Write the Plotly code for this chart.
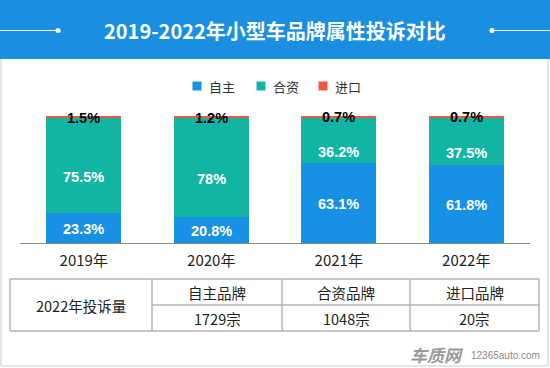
import plotly.graph_objects as go

# ---- data ----
years = ["2019年", "2020年", "2021年", "2022年"]
series_names = ["自主", "合资", "进口"]
own_brand = [23.3, 20.8, 63.1, 61.8]
joint_venture = [75.5, 78.0, 36.2, 37.5]
imported = [1.5, 1.2, 0.7, 0.7]
own_labels = ["23.3%", "20.8%", "63.1%", "61.8%"]
jv_labels = ["75.5%", "78%", "36.2%", "37.5%"]
imp_labels = ["1.5%", "1.2%", "0.7%", "0.7%"]

table_row_title = "2022年投诉量"
table_headers = ["自主品牌", "合资品牌", "进口品牌"]
table_counts = ["1729宗", "1048宗", "20宗"]

title_text = "2019-2022年小型车品牌属性投诉对比"

colors = ["#1890e3", "#12b5a4", "#f05a3c"]
BANNER = "#1a8fe0"
W, H = 550, 368

def py(px):
    return 1 - px / H

def pxx(px):
    return px / W

CJK = "Noto Sans CJK SC"
NUM = "Liberation Sans"

fig = go.Figure()
for name, vals, col in zip(series_names, [own_brand, joint_venture, imported], colors):
    fig.add_trace(go.Bar(x=years, y=vals, name=name, marker=dict(color=col, line=dict(width=0)),
                         showlegend=False, hoverinfo="skip"))

annotations = []
shapes = []

def pann(x, y, text, font, xanchor="center", yanchor="middle"):
    annotations.append(dict(x=x, y=y, xref="paper", yref="paper", text=text, showarrow=False,
                            xanchor=xanchor, yanchor=yanchor, font=font))

lab_font_w = dict(family=NUM, size=14.5, color="white", weight="bold")
lab_font_k = dict(family=NUM, size=14.5, color="black", weight="bold")
# bar labels
for i, yr in enumerate(years):
    annotations.append(dict(x=yr, y=own_brand[i] / 2, xref="x", yref="y", text=own_labels[i],
                            showarrow=False, yshift=-1, xanchor="center", yanchor="middle", font=lab_font_w))
    annotations.append(dict(x=yr, y=own_brand[i] + joint_venture[i] / 2, xref="x", yref="y",
                            text=jv_labels[i], showarrow=False, yshift=-12, xanchor="center", yanchor="middle",
                            font=lab_font_w))
    annotations.append(dict(x=yr, y=own_brand[i] + joint_venture[i] + imported[i] / 2, xref="x", yref="y",
                            text=imp_labels[i], showarrow=False, yshift=-1, xanchor="center", yanchor="middle",
                            font=lab_font_k))

# banner
shapes.append(dict(type="rect", xref="paper", yref="paper", x0=0, x1=1, y0=py(59), y1=1,
                   fillcolor=BANNER, line=dict(width=0), layer="below"))
shapes.append(dict(type="line", xref="paper", yref="paper", x0=0, x1=pxx(58), y0=py(30.5), y1=py(30.5),
                   line=dict(color="white", width=1)))
shapes.append(dict(type="line", xref="paper", yref="paper", x0=pxx(492), x1=1, y0=py(30.5), y1=py(30.5),
                   line=dict(color="white", width=1)))
for cx in (58, 492):
    shapes.append(dict(type="circle", xref="paper", yref="paper", x0=pxx(cx - 2.5), x1=pxx(cx + 2.5),
                       y0=py(33), y1=py(28), fillcolor="white", line=dict(width=0)))
pann(0.5, py(30), title_text, dict(family=CJK, size=20, color="white", weight="bold"))

# outer border
for (x0, y0, x1, y1) in [(1, 59, 1, 366), (548, 59, 548, 366), (1, 366, 548, 366)]:
    shapes.append(dict(type="line", xref="paper", yref="paper", x0=pxx(x0), x1=pxx(x1), y0=py(y0), y1=py(y1),
                       line=dict(color="#dddddd", width=1.5)))

# custom legend
leg_sq_x = [197, 261, 323]
for name, col, sx in zip(series_names, colors, leg_sq_x):
    shapes.append(dict(type="rect", xref="paper", yref="paper", x0=pxx(sx - 4.5), x1=pxx(sx + 4.5),
                       y0=py(90.5), y1=py(81.5), fillcolor=col, line=dict(width=0)))
    pann(pxx(sx + 10), py(86), name, dict(family=CJK, size=13, color="#333333"), xanchor="left")

# table
tl, tr, tt, tm, tb = 10, 539, 279, 305, 331
cols = [10, 152, 282, 410, 539]
tcol = "#b4b4b4"
for yy in (tt, tb):
    shapes.append(dict(type="line", xref="paper", yref="paper", x0=pxx(tl), x1=pxx(tr), y0=py(yy), y1=py(yy),
                       line=dict(color=tcol, width=1.5)))
shapes.append(dict(type="line", xref="paper", yref="paper", x0=pxx(cols[1]), x1=pxx(tr), y0=py(tm), y1=py(tm),
                   line=dict(color=tcol, width=1.5)))
for cx in cols:
    shapes.append(dict(type="line", xref="paper", yref="paper", x0=pxx(cx), x1=pxx(cx), y0=py(tt), y1=py(tb),
                       line=dict(color=tcol, width=1.5)))
tfont = dict(family=CJK, size=14.5, color="#222222")
pann(pxx((cols[0] + cols[1]) / 2), py((tt + tb) / 2), table_row_title, tfont)
for j in range(3):
    cxm = (cols[j + 1] + cols[j + 2]) / 2
    pann(pxx(cxm), py((tt + tm) / 2), table_headers[j], tfont)
    pann(pxx(cxm), py((tm + tb) / 2), table_counts[j], tfont)

# watermark
pann(pxx(466), py(354), "<i>车质网</i>", dict(family=CJK, size=17, color="#9a9a9a", weight="bold"),
     xanchor="right")
pann(pxx(469), py(355), "12365auto.com", dict(family=NUM, size=10, color="#8a8a8a"), xanchor="left")

# y axis: 0 at 243px, 100 at 116px; range extended slightly so 2019 total (100.3) stays inside
YMAX = 101.0
y_top_px = 243 - 127 * YMAX / 100

fig.update_layout(
    width=W, height=H,
    margin=dict(l=0, r=0, t=0, b=0),
    paper_bgcolor="white", plot_bgcolor="white",
    barmode="stack", bargap=0.412,
    showlegend=False,
    xaxis=dict(domain=[pxx(20), pxx(530)], showline=True, linecolor="#888888", linewidth=1,
               ticks="outside", ticklen=4, tickcolor="rgba(0,0,0,0)", showgrid=False, fixedrange=True,
               automargin=False, tickfont=dict(family=CJK, size=15, color="#222222")),
    yaxis=dict(domain=[py(243), py(y_top_px)], range=[0, YMAX], visible=False, showgrid=False,
               fixedrange=True),
    annotations=annotations, shapes=shapes,
)

fig.write_html("out.html", config=dict(displayModeBar=False),
               post_script="document.body.style.margin='0';document.body.style.overflow='hidden';")
